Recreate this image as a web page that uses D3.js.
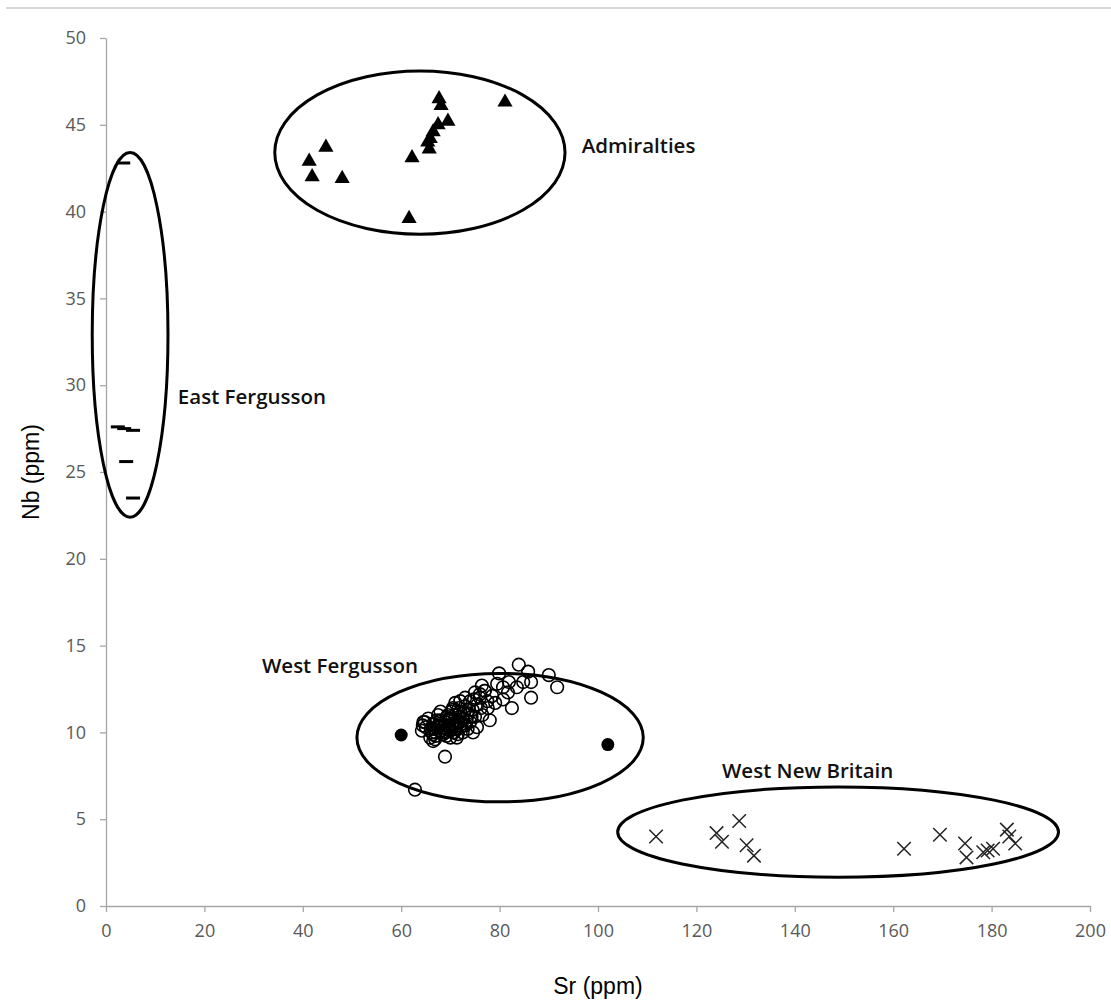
<!DOCTYPE html>
<html>
<head>
<meta charset="utf-8">
<script src="https://cdn.jsdelivr.net/npm/d3@7"></script>
<style>
  body { margin: 0; background: #fff; }
  text { font-family: "Open Sans", "DejaVu Sans", sans-serif; }
</style>
</head>
<body>
<div id="container"></div>
<script>
const width = 1111,
  height = 1003,
  margin = {top: 38, bottom: 97, left: 106, right: 21};

// tick values
const xTicks = [0, 20, 40, 60, 80, 100, 120, 140, 160, 180, 200];
const yTicks = [0, 5, 10, 15, 20, 25, 30, 35, 40, 45, 50];

// Admiralties (triangles) [Sr, Nb]
const admiralties = [
  [67.7, 46.5], [68.1, 46.1], [81.1, 46.3], [69.5, 45.2], [67.5, 45.0],
  [66.5, 44.6], [65.9, 44.2], [65.4, 44.0], [65.7, 43.6], [62.2, 43.1],
  [44.7, 43.7], [41.3, 42.9], [41.9, 42.0], [48.0, 41.9], [61.6, 39.6]
];

// East Fergusson (dashes)
const eastFergusson = [
  [3.5, 42.8], [2.4, 27.6], [3.7, 27.5], [5.5, 27.4], [4.1, 25.6], [5.5, 23.5]
];

// West Fergusson (open circles)
const westFergusson = [
  [83.9, 13.9], [85.8, 13.5], [79.9, 13.4], [86.4, 12.9], [86.4, 12.0],
  [90.0, 13.3], [91.7, 12.6], [81.9, 12.9], [83.5, 12.6], [81.7, 12.3],
  [80.7, 11.9], [80.7, 12.6], [84.8, 12.9], [79.1, 11.7], [77.6, 11.4],
  [77.0, 12.4], [76.4, 12.7], [76.0, 12.0], [78.0, 10.7], [75.4, 10.3],
  [73.4, 11.1], [72.0, 11.8], [70.5, 11.3], [69.3, 10.9], [67.3, 10.7],
  [64.8, 10.6], [64.2, 10.1], [65.9, 9.7], [66.9, 9.6], [71.3, 9.7],
  [74.6, 10.0], [68.9, 8.6], [62.8, 6.7], [66.5, 9.5], [64.4, 10.4],
  [66.0, 10.2], [66.5, 10.5], [67.0, 10.0], [67.5, 10.4], [68.0, 10.1],
  [68.0, 10.7], [68.5, 10.3], [69.0, 10.0], [69.0, 10.6], [69.5, 10.4],
  [70.0, 10.1], [70.0, 10.8], [70.5, 10.5], [71.0, 10.2], [71.0, 11.0],
  [71.5, 10.6], [72.0, 10.3], [72.0, 11.2], [72.5, 10.8], [73.0, 10.4],
  [73.0, 11.5], [73.5, 11.0], [74.0, 10.6], [74.0, 11.8], [74.5, 11.3],
  [75.0, 10.9], [75.5, 11.6], [76.0, 12.2], [76.5, 11.0], [77.0, 12.4],
  [77.5, 11.8], [65.5, 10.8], [67.0, 9.8], [68.5, 9.9], [70.0, 9.7],
  [71.5, 9.9], [72.5, 10.0], [69.5, 11.0], [70.5, 11.4], [71.0, 11.7],
  [68.0, 11.2], [67.5, 11.0], [66.5, 9.9], [65.0, 10.3], [64.5, 10.6],
  [73.5, 10.2], [78.5, 12.1], [79.5, 12.8], [82.5, 11.4], [75.0, 12.3],
  [67.2, 10.3], [67.8, 10.6], [68.3, 10.0], [68.8, 10.4], [69.3, 10.2],
  [69.8, 10.7], [70.3, 10.3], [70.8, 10.0], [71.3, 10.4], [71.8, 10.9],
  [72.3, 10.5], [72.8, 11.1], [73.3, 10.7], [73.8, 11.3], [74.3, 10.9],
  [66.2, 10.0], [66.8, 10.2], [69.2, 9.8], [70.6, 10.0], [72.0, 10.6],
  [73.0, 12.0], [74.8, 11.9], [76.2, 11.4], [71.7, 11.4], [70.2, 11.2]
];

// West Fergusson (filled circles)
const westFergussonFilled = [[60.0, 9.85], [102.0, 9.3]];

// West New Britain (crosses)
const westNewBritain = [
  [111.8, 4.0], [124.1, 4.2], [125.2, 3.7], [128.7, 4.9], [130.2, 3.5],
  [131.7, 2.9], [162.2, 3.3], [169.5, 4.1], [174.6, 3.6], [174.9, 2.8],
  [178.3, 3.1], [179.2, 3.2], [180.3, 3.3], [183.1, 4.4], [184.8, 3.6],
  [183.6, 4.0]
];

// group ellipses and labels, data units: [cx, cy, rx, ry]
const groupNames = ["East Fergusson", "Admiralties", "West Fergusson", "West New Britain"];
const groupEllipses = [[4.9, 32.9, 7.7, 10.5], [63.8, 43.4, 29.5, 4.7], [80.1, 9.7, 29.1, 3.7], [148.8, 4.26, 44.8, 2.6]];
const groupLabelAt = [[14.6, 28.9], [96.7, 43.4], [31.7, 13.4], [125.2, 7.4]];

const svg = d3.select("#container")
  .append("svg")
  .attr("width", width)
  .attr("height", height);

const xScale = d3.scaleLinear()
  .domain([0, 200])
  .range([margin.left, width - margin.right]);

const yScale = d3.scaleLinear()
  .domain([0, 50])
  .range([height - margin.bottom, margin.top]);

// top border line
svg.append("line")
  .attr("x1", 6).attr("x2", width)
  .attr("y1", 8).attr("y2", 8)
  .attr("stroke", "#d9d9d9")
  .attr("stroke-width", 2);

const xAxis = d3.axisBottom(xScale).tickValues(xTicks).tickSize(6).tickPadding(12).tickSizeOuter(0);
const yAxis = d3.axisLeft(yScale).tickValues(yTicks).tickSize(6).tickPadding(14).tickSizeOuter(0);

const xAxisGroup = svg.append("g")
  .attr("transform", `translate(0,${height - margin.bottom})`)
  .call(xAxis);

const yAxisGroup = svg.append("g")
  .attr("transform", `translate(${margin.left},0)`)
  .call(yAxis);

[xAxisGroup, yAxisGroup].forEach(g => {
  g.selectAll("path, line").attr("stroke", "#a6a6a6").attr("stroke-width", 1.3);
  g.selectAll("text")
    .attr("fill", "#595959")
    .style("font-size", "18px")
    .style("font-family", "'Open Sans', sans-serif");
});

// axis titles
svg.append("text")
  .attr("x", (margin.left + width - margin.right) / 2)
  .attr("y", 994)
  .attr("text-anchor", "middle")
  .style("font-family", "'Liberation Sans', Arial, sans-serif")
  .style("font-size", "23px")
  .attr("fill", "#000")
  .text("Sr (ppm)");

svg.append("text")
  .attr("transform", `translate(39,${(margin.top + height - margin.bottom) / 2}) rotate(-90)`)
  .attr("text-anchor", "middle")
  .style("font-family", "'Liberation Sans', Arial, sans-serif")
  .style("font-size", "23px")
  .attr("fill", "#000")
  .text("Nb (ppm)");

// ellipses
svg.selectAll("ellipse.group")
  .data(groupEllipses)
  .join("ellipse")
  .attr("class", "group")
  .attr("cx", d => xScale(d[0]))
  .attr("cy", d => yScale(d[1]))
  .attr("rx", d => xScale(d[2]) - xScale(0))
  .attr("ry", d => yScale(0) - yScale(d[3]))
  .attr("fill", "none")
  .attr("stroke", "#000")
  .attr("stroke-width", 3);

// group labels
svg.selectAll("text.groupLabel")
  .data(groupNames)
  .join("text")
  .attr("class", "groupLabel")
  .attr("x", (d, i) => xScale(groupLabelAt[i][0]))
  .attr("y", (d, i) => yScale(groupLabelAt[i][1]))
  .style("font-family", "'Open Sans', sans-serif")
  .style("font-weight", 600)
  .style("font-size", "20.5px")
  .attr("fill", "#111")
  .text(d => d);

// triangles
svg.selectAll("path.tri")
  .data(admiralties)
  .join("path")
  .attr("class", "tri")
  .attr("d", d3.symbol().type(d3.symbolTriangle).size(100))
  .attr("transform", d => `translate(${xScale(d[0])},${yScale(d[1])})`)
  .attr("fill", "#000");

// dashes
svg.selectAll("rect.dash")
  .data(eastFergusson)
  .join("rect")
  .attr("class", "dash")
  .attr("x", d => xScale(d[0]) - 7)
  .attr("y", d => yScale(d[1]) - 1.5)
  .attr("width", 14)
  .attr("height", 3)
  .attr("fill", "#000");

// open circles
svg.selectAll("circle.open")
  .data(westFergusson)
  .join("circle")
  .attr("class", "open")
  .attr("cx", d => xScale(d[0]))
  .attr("cy", d => yScale(d[1]))
  .attr("r", 6.3)
  .attr("fill", "none")
  .attr("stroke", "#000")
  .attr("stroke-width", 1.6);

// filled circles
svg.selectAll("circle.filled")
  .data(westFergussonFilled)
  .join("circle")
  .attr("class", "filled")
  .attr("cx", d => xScale(d[0]))
  .attr("cy", d => yScale(d[1]))
  .attr("r", 6.5)
  .attr("fill", "#000");

// crosses
svg.selectAll("path.cross")
  .data(westNewBritain)
  .join("path")
  .attr("class", "cross")
  .attr("d", d3.symbol().type(d3.symbolX).size(120))
  .attr("transform", d => `translate(${xScale(d[0])},${yScale(d[1])})`)
  .attr("fill", "none")
  .attr("stroke", "#222")
  .attr("stroke-width", 1.5);
</script>
</body>
</html>
